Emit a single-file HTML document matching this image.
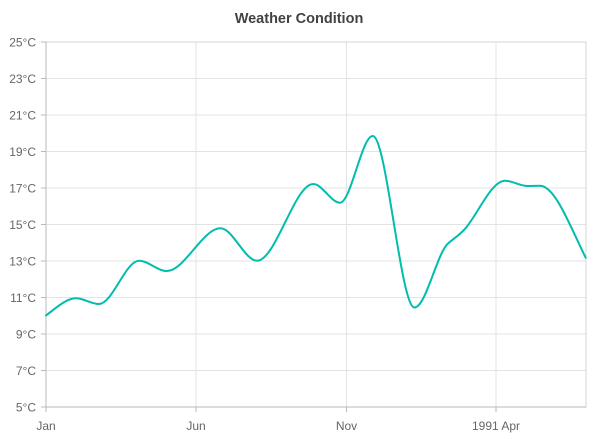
<!DOCTYPE html>
<html>
<head>
<meta charset="utf-8">
<style>
  html, body { margin: 0; padding: 0; background: #ffffff; }
  svg { display: block; }
  text { font-family: "Liberation Sans", "DejaVu Sans", sans-serif; }
</style>
</head>
<body>
<svg width="600" height="439" viewBox="0 0 600 439" xmlns="http://www.w3.org/2000/svg">
  <rect x="0" y="0" width="600" height="439" fill="#ffffff"/>

  <!-- Title -->
  <text x="299" y="23" text-anchor="middle" font-size="14.5" font-weight="bold" fill="#424242">Weather Condition</text>

  <!-- Horizontal gridlines -->
  <g stroke="#e3e3e3" stroke-width="1">
    <line x1="46" y1="78.5" x2="586" y2="78.5"/>
    <line x1="46" y1="115" x2="586" y2="115"/>
    <line x1="46" y1="151.5" x2="586" y2="151.5"/>
    <line x1="46" y1="188" x2="586" y2="188"/>
    <line x1="46" y1="224.5" x2="586" y2="224.5"/>
    <line x1="46" y1="261" x2="586" y2="261"/>
    <line x1="46" y1="297.5" x2="586" y2="297.5"/>
    <line x1="46" y1="334" x2="586" y2="334"/>
    <line x1="46" y1="370.5" x2="586" y2="370.5"/>
  </g>
  <!-- Vertical gridlines -->
  <g stroke="#e3e3e3" stroke-width="1">
    <line x1="196" y1="42" x2="196" y2="407"/>
    <line x1="346.5" y1="42" x2="346.5" y2="407"/>
    <line x1="496" y1="42" x2="496" y2="407"/>
  </g>
  <!-- Plot border -->
  <rect x="46" y="42" width="540" height="365" fill="none" stroke="#d6d6d6" stroke-width="1"/>
  <!-- Axes -->
  <line x1="46" y1="42" x2="46" y2="407" stroke="#b8b8b8" stroke-width="1"/>
  <line x1="46" y1="407" x2="586" y2="407" stroke="#b8b8b8" stroke-width="1"/>

  <!-- Y ticks -->
  <g stroke="#b8b8b8" stroke-width="1">
    <line x1="41" y1="42" x2="46" y2="42"/>
    <line x1="41" y1="78.5" x2="46" y2="78.5"/>
    <line x1="41" y1="115" x2="46" y2="115"/>
    <line x1="41" y1="151.5" x2="46" y2="151.5"/>
    <line x1="41" y1="188" x2="46" y2="188"/>
    <line x1="41" y1="224.5" x2="46" y2="224.5"/>
    <line x1="41" y1="261" x2="46" y2="261"/>
    <line x1="41" y1="297.5" x2="46" y2="297.5"/>
    <line x1="41" y1="334" x2="46" y2="334"/>
    <line x1="41" y1="370.5" x2="46" y2="370.5"/>
    <line x1="41" y1="407" x2="46" y2="407"/>
  </g>
  <!-- X ticks -->
  <g stroke="#b8b8b8" stroke-width="1">
    <line x1="46" y1="407" x2="46" y2="412"/>
    <line x1="196" y1="407" x2="196" y2="412"/>
    <line x1="346.5" y1="407" x2="346.5" y2="412"/>
    <line x1="496" y1="407" x2="496" y2="412"/>
  </g>

  <!-- Y labels -->
  <g font-size="12" fill="#666666" text-anchor="end">
    <text x="36" y="46.5">25°C</text>
    <text x="36" y="83">23°C</text>
    <text x="36" y="119.5">21°C</text>
    <text x="36" y="156">19°C</text>
    <text x="36" y="192.5">17°C</text>
    <text x="36" y="229">15°C</text>
    <text x="36" y="265.5">13°C</text>
    <text x="36" y="302">11°C</text>
    <text x="36" y="338.5">9°C</text>
    <text x="36" y="375">7°C</text>
    <text x="36" y="411.5">5°C</text>
  </g>

  <!-- X labels -->
  <g font-size="12" fill="#666666" text-anchor="middle">
    <text x="46" y="430">Jan</text>
    <text x="196" y="430">Jun</text>
    <text x="346.5" y="430">Nov</text>
    <text x="496" y="430">1991 Apr</text>
  </g>

  <!-- Series -->
  <path fill="none" stroke="#00bdae" stroke-width="2" stroke-linejoin="round" stroke-linecap="round"
    d="M46,315.5
       C56,308 66,298.3 76,298.3
       C83.7,298.3 91.3,304 99,304
       C112.3,304 125.7,260.7 139,260.7
       C148.2,260.7 157.5,271 166.7,271
       C184.6,271 202.6,228.3 220.5,228.3
       C232.7,228.3 244.8,260.7 257,260.7
       C275.8,260.7 294.5,184 313.3,184
       C322.2,184 331.1,202.7 340,202.7
       C350.9,202.7 361.8,136 372.7,136
       C386.6,136 400.6,307.5 414.5,307.5
       C425.7,307.5 436.8,253.6 448,243.5
       C454.3,237.8 460.7,234.7 467,226.5
       C479.7,210 492.3,180.7 505,180.7
       C512.3,180.7 519.7,186 527,186
       C531.3,186 535.7,185.7 540,185.7
       C555.2,185.7 570.5,227.3 585.7,257.7"/>
</svg>
</body>
</html>
